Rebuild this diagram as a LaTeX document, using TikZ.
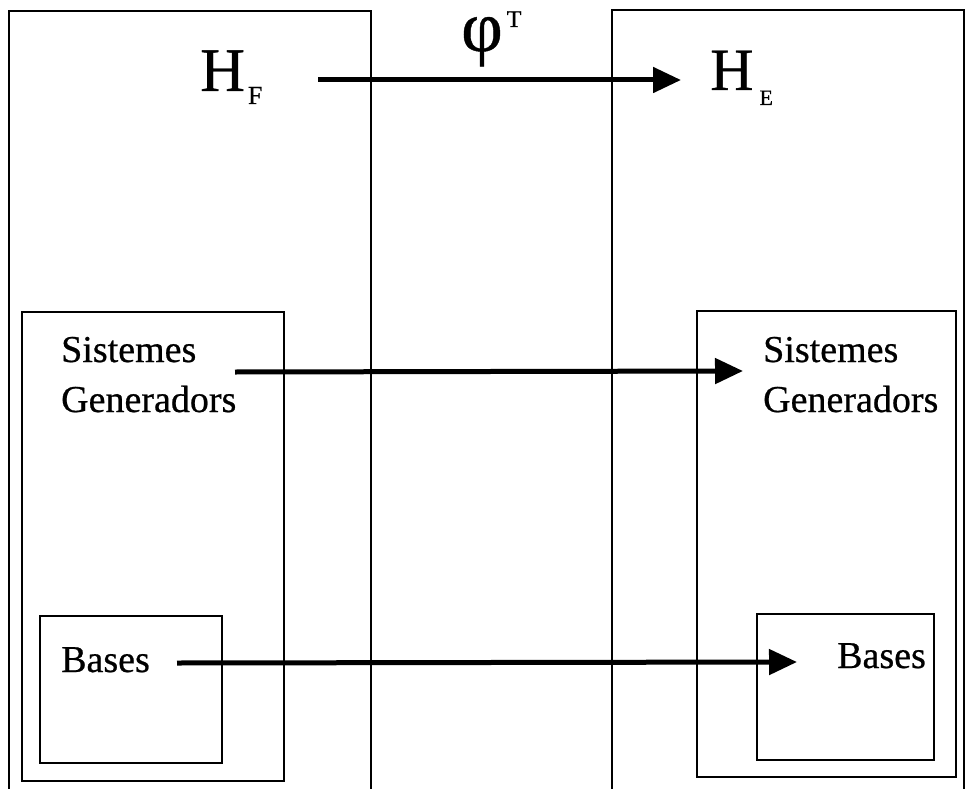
\documentclass[tikz,border=0pt]{standalone}
\usepackage{fontspec}
\setmainfont{Liberation Serif}[FakeBold=0.6]
\usetikzlibrary{arrows.meta}

\tikzset{
  panel/.style={draw, line width=2.4pt, inner sep=0pt, outer sep=0pt,
                anchor=north west, fill=none},
  label/.style={inner sep=0pt, anchor=base west,
                font=\fontsize{38}{50}\selectfont},
  mapto/.style={line width=5pt,
                -{Triangle[length=28pt,width=25pt]}},
}

\begin{document}
\begin{tikzpicture}[x=1pt,y=-1pt]
  \useasboundingbox (0,0) rectangle (966,789);
  \clip (0,0) rectangle (966,789);

  % outer spaces
  \node[panel, minimum width=362pt, minimum height=800pt] (spaceF) at (9,11) {};
  \node[panel, minimum width=352pt, minimum height=800pt] (spaceE) at (612,10) {};

  % generating systems
  \node[panel, minimum width=262pt, minimum height=469pt] (genF) at (22,312) {};
  \node[panel, minimum width=259pt, minimum height=466pt] (genE) at (697,311) {};

  % bases
  \node[panel, minimum width=182pt, minimum height=147pt] (basF) at (40,616) {};
  \node[panel, minimum width=177pt, minimum height=146pt] (basE) at (757,614) {};

  % space names
  \node[inner sep=0pt, anchor=base west, font=\fontsize{62}{62}\selectfont] (HF) at (200,91)
    {H\hspace{3pt}\raisebox{-13pt}{\fontsize{26}{26}\selectfont F}};
  \node[inner sep=0pt, anchor=base west, font=\fontsize{60}{60}\selectfont] (HE) at (710,90)
    {H\hspace{6pt}\raisebox{-15pt}{\fontsize{22}{22}\selectfont E}};

  % map label (box trimmed to the glyph's own height)
  \node[inner sep=0pt, anchor=base west, font=\fontsize{72}{72}\selectfont] (phi) at (461,51)
    {\raisebox{0pt}[0.6em][0.2em]{φ}\hspace{4pt}\raisebox{24pt}[40pt][0pt]{\fontsize{24}{24}\selectfont T}};

  % contents (anchored on the baseline of the last line)
  \node[label, align=left] (sgF) at (61,412) {Sistemes\\Generadors};
  \node[label, align=left] (sgE) at (763,412) {Sistemes\\Generadors};
  \node[label] (bF) at (61,672) {Bases};
  \node[label] (bE) at (837,668) {Bases};

  % arrow ends
  \coordinate (hfOut) at (318,80);
  \coordinate (heIn)  at (681,80);
  \coordinate (sgOut) at (235,372);
  \coordinate (sgIn)  at (743,371);
  \coordinate (bOut)  at (177,663);
  \coordinate (bIn)   at (797,662);

  \draw[mapto] (hfOut) -- (heIn);
  \draw[mapto] (sgOut) -- (sgIn);
  \draw[mapto] (bOut) -- (bIn);
\end{tikzpicture}
\end{document}
